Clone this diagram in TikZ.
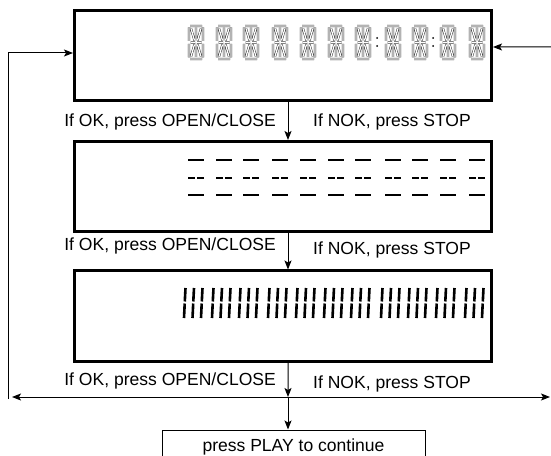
\documentclass[tikz,border=0pt]{standalone}
\usepackage{fontspec}
\setmainfont{Liberation Sans}
\usetikzlibrary{arrows.meta}

\tikzset{
  lcd/.style={draw, line width=3bp, minimum width=417bp, minimum height=90bp, inner sep=0pt},
  flow/.style={line width=1bp, -{Stealth[length=9bp, width=7bp, inset=2bp]}},
  hint/.style={inner sep=0pt, font=\fontsize{17.6}{20}\selectfont},
  seg/.style={draw=black!85, line width=0.45bp, double=white, double distance=1.3bp},
  lcdbar/.style={line width=2.6bp}
}

\begin{document}
\begin{tikzpicture}[x=1bp, y=-1bp]
    \useasboundingbox (0, 0) rectangle (551, 456);

    % the three displays and the last step
    \node[lcd] (disp1) at (283, 56) {};
    \node[lcd] (disp2) at (283, 186.5) {};
    \node[lcd] (disp3) at (283, 316) {};
    \node[draw, line width=1bp, minimum width=263bp, minimum height=34bp, hint] (play) at (293.5, 447) {press PLAY to continue};

    \coordinate (split) at (288, 397);
    \coordinate (lend) at (12, 397);
    \coordinate (rend) at (550, 397);
    \coordinate (loopfoot) at (8, 399);
    \coordinate (rin) at (553, 47);

    % connectors
    \draw[flow] ([xshift=5bp]disp1.south) -- ([xshift=5bp]disp2.north);
    \draw[flow] ([xshift=5bp]disp2.south) -- ([xshift=5bp]disp3.north);
    \draw[flow] ([xshift=5bp]disp3.south) -- (split);
    \draw[flow] (split) -- (split |- play.north);
    \draw[line width=1bp, {Stealth[length=9bp, width=7bp, inset=2bp]}-{Stealth[length=9bp, width=7bp, inset=2bp]}] (lend) -- (rend);
    \draw[flow] (loopfoot) |- ([yshift=3bp]disp1.west);
    \draw[flow] (rin) -- ([yshift=9bp]disp1.east);

    % labels
    \node[hint, anchor=base east] (ok1) at (276, 127) {If OK, press OPEN/CLOSE};
    \node[hint, anchor=base west] (nok1) at (313, 127) {If NOK, press STOP};
    \node[hint, anchor=base east] (ok2) at (276, 251) {If OK, press OPEN/CLOSE};
    \node[hint, anchor=base west] (nok2) at (313, 255) {If NOK, press STOP};
    \node[hint, anchor=base east] (ok3) at (276, 385) {If OK, press OPEN/CLOSE};
    \node[hint, anchor=base west] (nok3) at (313, 388) {If NOK, press STOP};

    % first display: 14 segment digits
    \foreach \x in {188, 216, 243, 272, 300, 328, 355, 385, 412, 440, 469} {
      \draw[seg] (\x+2, 26) -- (\x+14, 26) (\x+2, 59) -- (\x+14, 59)
        (\x+1, 27.5) -- (\x+1, 41) (\x+1, 44) -- (\x+1, 57.5)
        (\x+15, 27.5) -- (\x+15, 41) (\x+15, 44) -- (\x+15, 57.5)
        (\x+8, 28) -- (\x+8, 41) (\x+8, 44) -- (\x+8, 57)
        (\x+2.5, 42.5) -- (\x+7, 42.5) (\x+9, 42.5) -- (\x+13.5, 42.5)
        (\x+3, 28.5) -- (\x+6.5, 40.5) (\x+13, 28.5) -- (\x+9.5, 40.5)
        (\x+3, 56.5) -- (\x+6.5, 44.5) (\x+13, 56.5) -- (\x+9.5, 44.5);
    }
    \fill (377, 38) circle[radius=1bp];
    \fill (377, 46) circle[radius=1bp];
    \fill (433, 38) circle[radius=1bp];
    \fill (433, 46) circle[radius=1bp];

    % second display: dashes
    \foreach \x in {188, 216, 243, 272, 300, 328, 355, 385, 412, 440, 469} {
      \draw[lcdbar] (\x, 160) -- (\x+16, 160);
      \draw[lcdbar] (\x, 178) -- (\x+7, 178) (\x+9, 178) -- (\x+16, 178);
      \draw[lcdbar] (\x, 195) -- (\x+16, 195);
    }

    % third display: vertical bars
    \foreach \x in {184, 212, 239, 268, 296, 324, 351, 381, 408, 436, 465} {
      \foreach \d in {0, 8.5, 17} {
        \draw[lcdbar] (\x+\d, 318) -- (\x+\d+0.7, 303.5) (\x+\d+0.8, 301.5) -- (\x+\d+1.5, 288);
      }
    }
  \end{tikzpicture}
\end{document}
